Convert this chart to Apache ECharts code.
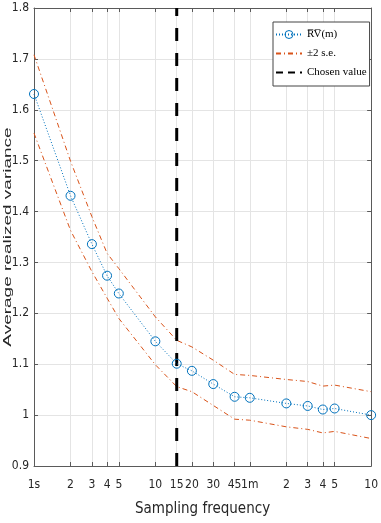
<!DOCTYPE html>
<html>
<head>
<meta charset="utf-8">
<script src="https://cdn.jsdelivr.net/npm/echarts@6/dist/echarts.min.js"></script>
<style>
  html, body { margin: 0; padding: 0; background: #fff; }
  #main { width: 381px; height: 523px; }
</style>
</head>
<body>
<div id="main"></div>
<script>
// sampling frequency in seconds
var seconds = [1, 2, 3, 4, 5, 10, 15, 20, 30, 45, 60, 120, 180, 240, 300, 600];
var rvMean  = [1.631, 1.431, 1.336, 1.274, 1.239, 1.145, 1.101, 1.087, 1.061, 1.036, 1.034, 1.023, 1.018, 1.011, 1.013, 1.000];
var seUpper = [1.708, 1.499, 1.390, 1.318, 1.288, 1.193, 1.147, 1.134, 1.108, 1.080, 1.078, 1.070, 1.066, 1.057, 1.059, 1.046];
var seLower = [1.554, 1.363, 1.282, 1.230, 1.190, 1.099, 1.056, 1.046, 1.019, 0.992, 0.990, 0.977, 0.972, 0.965, 0.968, 0.954];

var tickSeconds = [1, 2, 3, 4, 5, 10, 15, 20, 30, 45, 60, 120, 180, 240, 300, 600];
var tickLabels  = ['1s', '2', '3', '4', '5', '10', '15', '20', '30', '45', '1m', '2', '3', '4', '5', '10'];
var chosenSeconds = 15;
var yRange = [0.9, 1.8];

var blue = '#0072BD', orange = '#D95319';
var axisCol = '#5a5a5a', gridCol = '#e4e4e4', textCol = '#262626';
var narrow = '"Liberation Sans Narrow", "DejaVu Sans Condensed", "Liberation Sans", sans-serif';
var dashDot = [5, 3, 1, 3];

// x is drawn on log10(seconds)
function lg(s) { return Math.log10(s); }
function pairs(vals) {
    return seconds.map(function (s, i) { return [lg(s), vals[i]]; });
}
var tickPos = tickSeconds.map(lg);
var xMin = lg(tickSeconds[0]), xMax = lg(tickSeconds[tickSeconds.length - 1]);

function xLabel(v) {
    for (var i = 0; i < tickPos.length; i++) {
        if (Math.abs(tickPos[i] - v) < 1e-6) return tickLabels[i];
    }
    return '';
}

var noMarker = { opacity: 0, color: 'rgba(0,0,0,0)', borderColor: 'rgba(0,0,0,0)' };

var option = {
    animation: false,
    backgroundColor: '#fff',
    grid: { left: 34, right: 6, top: 8, bottom: 57 },
    legend: {
        orient: 'vertical',
        left: 273,
        top: 22,
        padding: [7, 3, 8, 2],
        itemWidth: 26,
        itemHeight: 10,
        itemGap: 8,
        backgroundColor: '#fff',
        borderColor: '#444',
        borderWidth: 1,
        textStyle: { fontFamily: '"Liberation Serif", "DejaVu Serif", serif', fontSize: 11, color: '#000' },
        data: [
            { name: 'R\u0305V\u0305(m)', itemStyle: { borderWidth: 1 } },
            { name: '\u00b12 s.e.', itemStyle: noMarker },
            { name: 'Chosen value', itemStyle: noMarker, lineStyle: { type: [7, 5] } }
        ]
    },
    xAxis: [{
        type: 'value',
        min: xMin,
        max: xMax,
        name: 'Sampling frequency',
        nameLocation: 'middle',
        nameGap: 36,
        nameTextStyle: { fontFamily: narrow, fontSize: 15, color: textCol },
        axisLine: { lineStyle: { color: axisCol } },
        axisTick: { inside: true, length: 4, customValues: tickPos, lineStyle: { color: axisCol } },
        axisLabel: { customValues: tickPos, formatter: xLabel, margin: 13, fontFamily: narrow, fontSize: 12, color: textCol },
        splitLine: { show: true, customValues: tickPos, lineStyle: { color: gridCol } }
    }, {
        type: 'value',
        position: 'top',
        min: xMin,
        max: xMax,
        axisLine: { show: true, onZero: false, lineStyle: { color: axisCol } },
        axisTick: { inside: true, length: 4, customValues: tickPos, lineStyle: { color: axisCol } },
        axisLabel: { show: false },
        splitLine: { show: false }
    }],
    yAxis: [{
        type: 'value',
        min: yRange[0],
        max: yRange[1],
        interval: 0.1,
        axisLine: { show: true, lineStyle: { color: axisCol } },
        axisTick: { show: true, inside: true, length: 4, lineStyle: { color: axisCol } },
        axisLabel: { margin: 5, fontFamily: narrow, fontSize: 12, color: textCol },
        splitLine: { lineStyle: { color: gridCol } }
    }, {
        type: 'value',
        position: 'right',
        min: yRange[0],
        max: yRange[1],
        interval: 0.1,
        axisLine: { show: true, onZero: false, lineStyle: { color: axisCol } },
        axisTick: { show: true, inside: true, length: 4, lineStyle: { color: axisCol } },
        axisLabel: { show: false },
        splitLine: { show: false }
    }],
    graphic: [{
        type: 'text',
        x: 8,
        y: 237,
        rotation: Math.PI / 2,
        scaleY: 0.6,
        style: {
            text: 'Average realized variance',
            font: '19px "Liberation Sans", Arial, sans-serif',
            fill: textCol,
            align: 'center',
            verticalAlign: 'middle'
        }
    }],
    series: [{
        name: '\u00b12 s.e.',
        type: 'line',
        data: pairs(seUpper),
        symbol: 'none',
        lineStyle: { color: orange, width: 1, type: dashDot },
        itemStyle: { color: orange },
        z: 2
    }, {
        name: '\u00b12 s.e.',
        type: 'line',
        data: pairs(seLower),
        symbol: 'none',
        lineStyle: { color: orange, width: 1, type: dashDot },
        itemStyle: { color: orange },
        z: 2
    }, {
        name: 'Chosen value',
        type: 'line',
        data: [[lg(chosenSeconds), yRange[0]], [lg(chosenSeconds), yRange[1]]],
        symbol: 'none',
        lineStyle: { color: '#000', width: 3, type: [13, 12] },
        itemStyle: { color: '#000' },
        z: 3
    }, {
        name: 'R\u0305V\u0305(m)',
        type: 'line',
        data: pairs(rvMean),
        symbol: 'circle',
        symbolSize: 9,
        showAllSymbol: true,
        lineStyle: { color: blue, width: 1, type: [1, 2] },
        itemStyle: { color: 'rgba(255,255,255,0)', borderColor: blue, borderWidth: 1 },
        z: 4
    }]
};

var chart = echarts.init(document.getElementById('main'));
chart.setOption(option);
</script>
</body>
</html>
